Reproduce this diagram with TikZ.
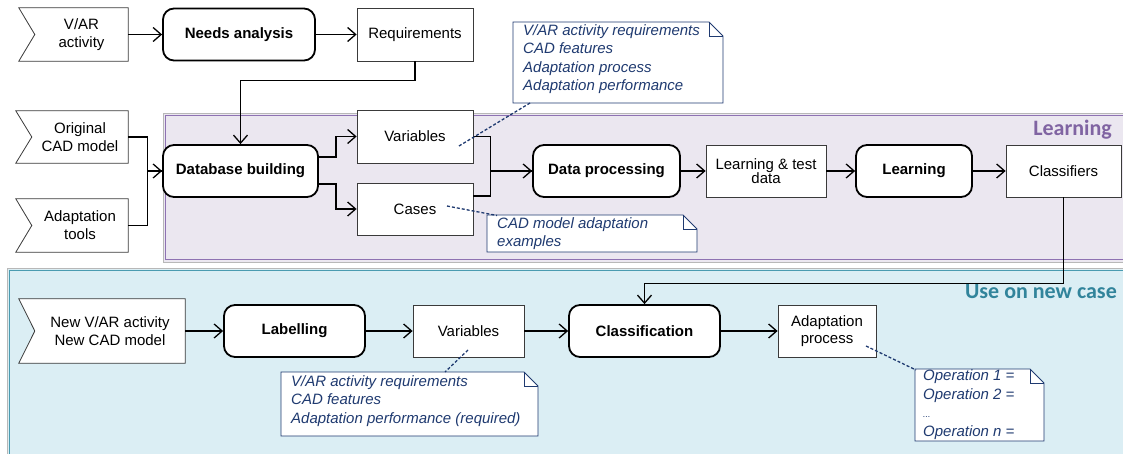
\documentclass[tikz,border=0pt]{standalone}
\usepackage{fontspec}
\setmainfont{Liberation Sans}
\newfontfamily\bandfont{Carlito}
\usetikzlibrary{arrows.meta,calc}
\pgfdeclarelayer{bands}
\pgfdeclarelayer{outl}
\pgfsetlayers{bands,outl,main}
\definecolor{lavfill}{HTML}{EBE7F0}
\definecolor{lavline}{HTML}{8E72B2}
\definecolor{lavtext}{HTML}{8064A2}
\definecolor{tealfill}{HTML}{DBEEF4}
\definecolor{tealline}{HTML}{4A9BB0}
\definecolor{tealtext}{HTML}{31849B}
\definecolor{navy}{HTML}{1F3A70}
\definecolor{boxline}{HTML}{3A3A3A}
\definecolor{outerline}{HTML}{B8B8B8}
\tikzset{
  proc/.style={draw=black, line width=1.8pt, rounded corners=11pt, fill=white,
    font=\fontsize{15}{18}\selectfont\bfseries, minimum height=52pt, inner sep=2pt},
  datab/.style={draw=boxline, line width=0.8pt, fill=white, align=center,
    font=\fontsize{15}{17}\selectfont, minimum height=52pt, inner sep=2pt},
  inp/.style={align=center, inner sep=0pt, font=\fontsize{15}{18}\selectfont},
  inpline/.style={draw=boxline, line width=0.8pt, fill=white},
  flow/.style={line width=1.3pt, -{Straight Barb[length=8pt,width=14pt,line width=1.3pt]}},
  link/.style={line width=1.3pt},
  notetext/.style={anchor=north west, inner xsep=10pt, inner ysep=2pt, text=navy,
    font=\fontsize{15}{18.5}\selectfont\itshape, align=left},
  noteline/.style={draw=navy, line width=0.9pt, fill=white},
  notelink/.style={draw=navy, line width=1.3pt, dash pattern=on 3pt off 2pt},
  bandlabel/.style={font=\fontsize{22}{24}\selectfont\bandfont\bfseries, inner sep=0pt, anchor=east}
}
\begin{document}
\begin{tikzpicture}[x=1pt,y=-1pt]
\useasboundingbox (0,0) rectangle (1123,454);

% bands
\begin{pgfonlayer}{bands}
  \fill[lavfill] (163,113) rectangle (1130,262);
  \draw[outerline, line width=0.9pt] (163,113) rectangle (1130,262);
  \draw[lavline, line width=1.2pt] (165.5,115.5) rectangle (1132,259.5);
  \fill[tealfill] (7,268) rectangle (1130,460);
  \draw[outerline, line width=0.9pt] (7,268) rectangle (1130,460);
  \draw[tealline, line width=1.2pt] (9.5,270.5) rectangle (1132,462);
\end{pgfonlayer}
\node[bandlabel, text=lavtext] (lbl1) at (1112,129.5) {Learning};
\node[bandlabel, text=tealtext] (lbl2) at (1117,291) {Use on new case};

% input nodes (notched)
\node[inp, minimum width=93pt, minimum height=53pt] (va) at (81.5,34.5) {V/AR\\activity};
\node[inp, minimum width=96pt, minimum height=52pt] (ocad) at (80,137) {Original\\CAD model};
\node[inp, minimum width=96pt, minimum height=53pt] (at) at (80,225.5) {Adaptation\\tools};
\node[inp, minimum width=150pt, minimum height=64pt] (new) at (110,331) {New V/AR activity\\New CAD model};
\begin{pgfonlayer}{outl}
  \foreach \n in {va,ocad,at,new}{
    \draw[inpline] ($(\n.north west)+(-16,0)$) -- (\n.north east) -- (\n.south east)
      -- ($(\n.south west)+(-16,0)$) -- (\n.west) -- cycle;
  }
\end{pgfonlayer}

% process nodes
\node[proc, minimum width=152pt] (na) at (239,34.5) {Needs analysis};
\node[proc, minimum width=155pt] (db) at (240.5,171) {Database building};
\node[proc, minimum width=147pt] (dp) at (606.5,171) {Data processing};
\node[proc, minimum width=116pt] (lrn) at (914,171) {Learning};
\node[proc, minimum width=141pt] (lab) at (294.5,331) {Labelling};
\node[proc, minimum width=151pt] (cla) at (644.5,331) {Classification};

% data nodes
\node[datab, minimum width=116pt, minimum height=53pt] (req) at (415,34.5) {Requirements};
\node[datab, minimum width=116pt, minimum height=53pt] (var) at (415,136.5) {Variables};
\node[datab, minimum width=116pt] (cas) at (415,209) {Cases};
\node[datab, minimum width=120pt, font=\fontsize{15}{14.5}\selectfont] (ltd) at (766,171) {Learning \& test\\data};
\node[datab, minimum width=115pt] (cls) at (1063.5,171) {Classifiers};
\node[datab, minimum width=111pt] (var2) at (468.5,331) {Variables};
\node[datab, minimum width=98pt] (ap) at (827,331) {Adaptation\\process};

% connectors
\draw[flow] (va.east) -- (na.west);
\draw[flow] (na.east) -- (req.west);
\draw[flow] (req.south) -- ++(0,19) -| (db.north);
\draw[link] (ocad.east) -- ++(19,0) |- (db.west);
\draw[flow] (at.east) -- ++(19,0) |- (db.west);
\draw[flow] ($(db.east)+(0,-14)$) -- ++(17,0) |- (var.west);
\draw[flow] ($(db.east)+(0,13)$) -- ++(17,0) |- (cas.west);
\draw[flow] (var.east) -- ++(17,0) |- (dp.west);
\draw[link] ($(cas.east)+(0,-13)$) -- ++(17,0) |- (dp.west);
\draw[flow] (dp.east) -- (ltd.west);
\draw[flow] (ltd.east) -- (lrn.west);
\draw[flow] (lrn.east) -- (cls.west);
\draw[flow] (cls.south) -- ++(0,86) -| (cla.north);
\draw[flow] (new.east) -- (lab.west);
\draw[flow] (lab.east) -- (var2.west);
\draw[flow] (var2.east) -- (cla.west);
\draw[flow] (cla.east) -- (ap.west);

% notes
\node[notetext] (n1) at (513,22) {V/AR activity requirements\\CAD features\\Adaptation process\\Adaptation performance};
\node[notetext] (n2) at (487,215) {CAD model adaptation\\examples};
\node[notetext] (n3) at (281,373) {V/AR activity requirements\\CAD features\\Adaptation performance (required)};
\node[notetext, inner xsep=8pt, inner ysep=0.5pt] (n4) at (915,369) {Operation 1 =\\Operation 2 =\\{\fontsize{9}{10}\selectfont ...}\\Operation \textit{n} =};
\begin{pgfonlayer}{outl}
  \draw[noteline] (513,22) -- (709,22) -- (723,36) -- (723,103) -- (513,103) -- cycle;
  \draw[noteline, fill=none] (709,22) -- (709,36) -- (723,36);
  \draw[noteline] (487,215) -- (683,215) -- (697,229) -- (697,252) -- (487,252) -- cycle;
  \draw[noteline, fill=none] (683,215) -- (683,229) -- (697,229);
  \draw[noteline] (281,372) -- (524,372) -- (538,386) -- (538,436) -- (281,436) -- cycle;
  \draw[noteline, fill=none] (524,372) -- (524,386) -- (538,386);
  \draw[noteline] (915,369) -- (1030,369) -- (1044,383) -- (1044,441) -- (915,441) -- cycle;
  \draw[noteline, fill=none] (1030,369) -- (1030,383) -- (1044,383);
\end{pgfonlayer}
\coordinate (d1a) at (459,146);
\coordinate (d1b) at (530,103);
\coordinate (d2a) at (447,206);
\coordinate (d2b) at (497,215.5);
\coordinate (d3a) at (468,350);
\coordinate (d3b) at (445,372);
\coordinate (d4a) at (866,346);
\coordinate (d4b) at (916,370);
\draw[notelink] (d1a) -- (d1b);
\draw[notelink] (d2a) -- (d2b);
\draw[notelink] (d3a) -- (d3b);
\draw[notelink] (d4a) -- (d4b);
\end{tikzpicture}
\end{document}
